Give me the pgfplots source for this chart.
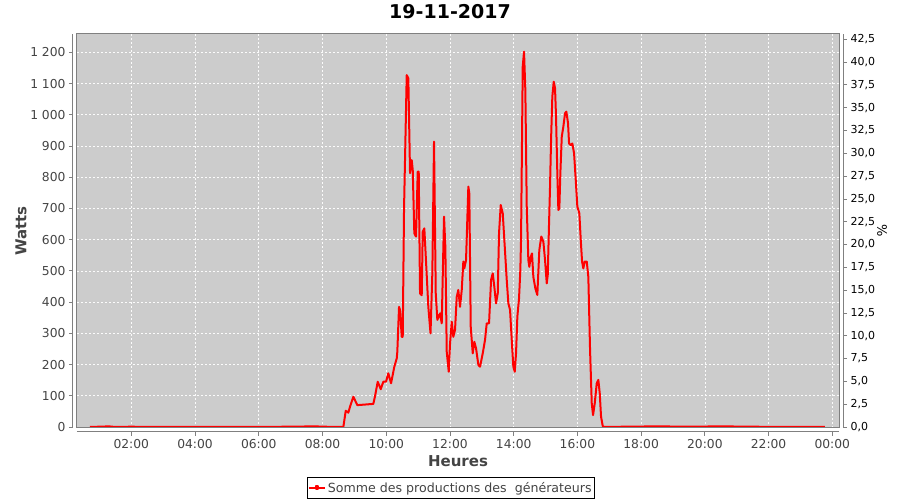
\documentclass[border=0pt]{standalone}
\usepackage{fontspec}
\setmainfont{DejaVu Sans}
\usepackage{pgfplots}
\pgfplotsset{compat=1.18}

\definecolor{bggray}{HTML}{CCCCCC}
\definecolor{framegray}{HTML}{808080}
\definecolor{labelgray}{HTML}{444444}
\definecolor{seriesred}{HTML}{FF0000}

\pgfplotstableread{
h      w
0.70   0
1.30   2
1.50   0
2.00   1
2.50   0
4.00   0
6.00   0
7.80   2
8.00   1
8.654  0
8.729  52
8.811  46
8.864  65
8.967  97
9.093  70
9.595  74
9.649  99
9.733  145
9.827  121
9.909  145
9.994  145
10.066 172
10.151 140
10.254 193
10.330 220
10.348 241
10.402 385
10.433 375
10.487 289
10.518 289
10.559 700
10.643 1127
10.694 1117
10.747 813
10.800 855
10.832 823
10.882 620
10.935 610
10.989 818
11.020 818
11.061 428
11.114 422
11.146 626
11.196 636
11.249 530
11.321 385
11.390 300
11.447 492
11.500 914
11.554 428
11.604 343
11.689 364
11.742 332
11.814 674
11.855 578
11.899 241
11.962 177
12.003 268
12.056 337
12.106 289
12.159 311
12.213 417
12.263 439
12.316 385
12.370 439
12.420 530
12.451 508
12.505 535
12.577 770
12.608 748
12.652 321
12.715 236
12.765 273
12.819 252
12.891 199
12.944 193
13.029 236
13.101 279
13.154 332
13.227 332
13.290 471
13.343 492
13.393 449
13.446 396
13.500 428
13.540 620
13.594 711
13.657 684
13.707 599
13.782 471
13.833 396
13.886 375
13.939 279
13.989 193
14.033 177
14.074 236
14.115 353
14.168 412
14.209 503
14.231 599
14.284 1154
14.325 1202
14.366 1079
14.410 706
14.460 535
14.491 513
14.535 545
14.575 556
14.617 481
14.680 444
14.742 423
14.805 567
14.867 610
14.931 594
14.984 535
15.038 460
15.069 487
15.110 652
15.141 770
15.173 919
15.213 1058
15.257 1106
15.298 1085
15.329 994
15.370 813
15.402 695
15.433 700
15.465 813
15.509 930
15.559 962
15.612 1005
15.653 1010
15.706 973
15.738 908
15.791 903
15.841 908
15.895 877
15.948 791
15.998 706
16.061 684
16.105 599
16.146 530
16.186 508
16.230 530
16.293 530
16.343 481
16.397 247
16.450 76
16.491 38
16.544 76
16.607 140
16.657 151
16.701 108
16.742 33
16.795 3
16.836 0
17.50  1
18.50  2
19.50  1
20.50  2
21.50  1
22.50  0
23.77  0
}\prod

\begin{document}
\begin{tikzpicture}
\path[use as bounding box] (0,0) rectangle (900pt,500pt);

\begin{axis}[
  at={(77pt,72pt)}, anchor=south west,
  scale only axis, width=762pt, height=394pt,
  xmin=0.295, xmax=24.21,
  ymin=-3.2, ymax=1258.8,
  axis x line*=bottom, axis y line*=left,
  axis line shift=4pt,
  axis line style={framegray, line width=1pt, -},
  axis background/.style={fill=bggray},
  clip=false,
  xtick={2,4,...,24},
  xticklabels={02:00,04:00,06:00,08:00,10:00,12:00,14:00,16:00,18:00,20:00,22:00,00:00},
  ytick={0,100,...,1200},
  yticklabels={0,100,200,300,400,500,600,700,800,900,1 000,1 100,1 200},
  tick align=outside, major tick length=4pt,
  tick style={framegray, line width=0.8pt},
  tick label style={font=\fontsize{12.3}{14}\selectfont, text=labelgray},
  grid=major,
  grid style={white!92!bggray, line width=0.7pt, dash pattern=on 2pt off 2pt},
  xlabel={Heures}, ylabel={Watts},
  xlabel style={font=\fontsize{15}{18}\selectfont\bfseries, text=labelgray,
    at={(axis description cs:0.5,-0.083)}, anchor=center},
  ylabel style={font=\fontsize{15}{18}\selectfont\bfseries, text=labelgray,
    at={(axis description cs:-0.0735,0.5)}, anchor=center},
  legend style={at={(axis description cs:0.4905,-0.152)}, anchor=center,
    draw=black, line width=0.8pt, fill=white,
    font=\fontsize{12.6}{15}\selectfont, text=labelgray,
    inner xsep=1pt, inner ysep=2.5pt, row sep=0pt},
  legend cell align=left,
  legend image code/.code={
    \draw[seriesred, line width=2pt] (0pt,0pt) -- (16pt,0pt);
    \fill[seriesred] (7pt,-1.5pt) rectangle (9pt,1.5pt);
  },
]
\addplot[seriesred, line width=2pt, line join=round] table[x=h, y=w] {\prod};
\addlegendentry{Somme des productions des\ \ générateurs}
\draw[framegray, line width=1pt] (rel axis cs:0,0) rectangle (rel axis cs:1,1);
\end{axis}

\begin{axis}[
  at={(77pt,72pt)}, anchor=south west,
  scale only axis, width=762pt, height=394pt,
  xmin=0.295, xmax=24.21,
  ymin=-0.11, ymax=43.08,
  axis x line=none, axis y line*=right,
  axis line shift=4pt,
  axis line style={framegray, line width=1pt, -},
  ytick={0,2.5,...,42.5},
  yticklabel style={/pgf/number format/.cd, fixed, fixed zerofill, precision=1, use comma, assume math mode=true},
  tick align=outside, major tick length=4pt,
  tick style={framegray, line width=0.8pt},
  tick label style={font=\fontsize{11}{13}\selectfont, text=black},
  ylabel={\%},
  ylabel style={font=\fontsize{13}{15}\selectfont, text=black, rotate=180,
    at={(axis description cs:1.0564,0.5)}, anchor=center},
]
\end{axis}

\node[font=\fontsize{19}{22}\selectfont\bfseries, text=black] at (450pt,488pt) {19-11-2017};
\end{tikzpicture}
\end{document}
